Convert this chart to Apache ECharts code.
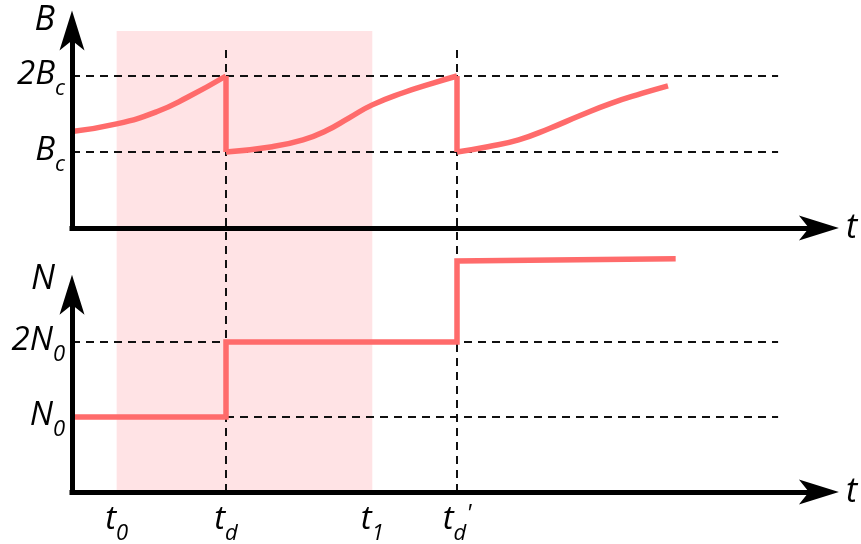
<!DOCTYPE html>
<html>
<head>
<meta charset="utf-8">
<script src="https://cdn.jsdelivr.net/npm/echarts@6/dist/echarts.min.js"></script>
<style>
  html, body { margin: 0; padding: 0; background: #fff; }
  #chart { width: 861px; height: 544px; }
</style>
</head>
<body>
<div id="chart"></div>
<script>
// Time markers (arbitrary time units)
const T0 = 0.58;      // t0: start of the shaded window
const TD = 2.0;       // td: first division
const T1 = 3.9;       // t1: end of the shaded window
const TD2 = 5.0;      // td': second division
const T_MAX = 9.7;    // end of the time axis (arrow)
const GUIDE_END = 9.17;
const GUIDE_TOP = 0.963;

// Cell size B (in units of Bc): three growth phases and the two divisions
const bGrowth1 = [[0, 1.27], [0.58, 1.37], [1.1, 1.53], [1.5, 1.72], [2.0, 2.0]];
const bGrowth2 = [[2.0, 1.0], [2.6, 1.07], [3.0, 1.16], [3.3, 1.28], [3.6, 1.45], [3.9, 1.62], [4.3, 1.78], [4.7, 1.91], [5.0, 2.0]];
const bGrowth3 = [[5.0, 1.0], [5.4, 1.07], [5.8, 1.16], [6.2, 1.31], [6.6, 1.48], [7.0, 1.64], [7.4, 1.77], [7.74, 1.87]];
const bDivision1 = [[2.0, 2.0], [2.0, 1.0]];
const bDivision2 = [[5.0, 2.0], [5.0, 1.0]];

// Cell number N (in units of N0)
const nSteps = [[0, 1], [2.0, 1], [2.0, 2], [5.0, 2], [5.0, 3.08], [7.84, 3.11]];

// Tick positions and labels
const bTicks = [1, 2];
const bTickLabels = { 1: '{m|B}{s|c}', 2: '{m|2B}{s|c}' };
const nTicks = [1, 2];
const nTickLabels = { 1: '{m|N}{s|0}', 2: '{m|2N}{s|0}' };
const tTicks = [T0, TD, T1, TD2];
const tTickLabels = ['{m|t}{s|0}', '{m|t}{s|d}', '{m|t}{s|1}', "{m|t}{s|d}{p|'}"];

const RED = '#ff6b6b';
const PINK = '#ffe3e5';
const FONT = 'Open Sans';
const UNIT_X = 77;     // px per time unit
const UNIT_B = 76;     // px per Bc
const UNIT_N = 75;     // px per N0
const B_MAX = 2.6;
const N_MAX = 2.63;

// notched arrow head, pointing up (rotated by the axis)
const ARROW = 'path://M12.5 0 L25 40 L12.5 30 L0 40 Z';

const richText = {
  m: { fontSize: 33, fontStyle: 'italic', fontFamily: FONT, color: '#000', lineHeight: 36, verticalAlign: 'top' },
  s: { fontSize: 22, fontStyle: 'italic', fontFamily: FONT, color: '#000', lineHeight: 24, verticalAlign: 'top', padding: [20, 0, 0, 0] },
  p: { fontSize: 24, fontStyle: 'italic', fontFamily: FONT, color: '#000', lineHeight: 24, verticalAlign: 'top', padding: [-1, 0, 0, 0] }
};

const axisLineStyle = { color: '#000', width: 5, cap: 'square' };
const nameStyle = { fontSize: 34, fontStyle: 'italic', fontFamily: FONT, color: '#000' };
const dashStyle = { color: '#111', width: 2, type: [8, 6] };

const gridW = T_MAX * UNIT_X;
const topBase = 228, botBase = 492;

function xAxisFor(gridIndex, withLabels) {
  return {
    type: 'value', gridIndex, min: 0, max: T_MAX, z: 10,
    name: 't', nameLocation: 'end', nameGap: 27,
    nameTextStyle: Object.assign({ align: 'left', verticalAlign: 'middle', padding: [4, 0, 0, 0] }, nameStyle),
    axisLine: { show: true, symbol: ['none', ARROW], symbolSize: [25, 40], lineStyle: axisLineStyle },
    axisTick: { show: false },
    splitLine: { show: false },
    axisLabel: withLabels ? {
      show: true, customValues: tTicks, margin: 11, rich: richText,
      formatter: v => tTickLabels[tTicks.indexOf(v)]
    } : { show: false }
  };
}

function yAxisFor(gridIndex, name, max, ticks, labels, gap) {
  return {
    type: 'value', gridIndex, min: 0, max, z: 10,
    name, nameLocation: 'end', nameGap: gap,
    nameTextStyle: Object.assign({ align: 'right', verticalAlign: 'middle', padding: [0, 17, 0, 0] }, nameStyle),
    axisLine: { show: true, symbol: ['none', ARROW], symbolSize: [25, 40], lineStyle: axisLineStyle },
    axisTick: { show: false },
    splitLine: { show: false },
    axisLabel: {
      show: true, customValues: ticks, margin: 7, rich: richText,
      formatter: v => labels[v] || ''
    }
  };
}

function curve(data, xi, smooth) {
  return {
    type: 'line', xAxisIndex: xi, yAxisIndex: xi, data, smooth,
    showSymbol: false, symbol: 'none',
    clip: false, z: 5, lineStyle: { color: RED, width: 5.5, join: 'miter' }, silent: true
  };
}
function guide(data, xi) {
  return {
    type: 'line', xAxisIndex: xi, yAxisIndex: xi, data, showSymbol: false, symbol: 'none',
    clip: false, z: 3, lineStyle: dashStyle, silent: true
  };
}

const chart = echarts.init(document.getElementById('chart'), null, { renderer: 'canvas' });
chart.setOption({
  animation: false,
  backgroundColor: '#fff',
  grid: [
    { left: 72, width: gridW, top: topBase - B_MAX * UNIT_B, height: B_MAX * UNIT_B, outerBoundsMode: 'none', containLabel: false },
    { left: 72, width: gridW, top: botBase - N_MAX * UNIT_N, height: N_MAX * UNIT_N, outerBoundsMode: 'none', containLabel: false },
    // full-height overlay holding the shaded window and the division guides
    { left: 72, width: gridW, top: 31, height: botBase - 31, outerBoundsMode: 'none', containLabel: false }
  ],
  xAxis: [
    xAxisFor(0, false),
    xAxisFor(1, true),
    { type: 'value', gridIndex: 2, min: 0, max: T_MAX, show: false }
  ],
  yAxis: [
    yAxisFor(0, 'B', B_MAX, bTicks, bTickLabels, 10),
    yAxisFor(1, 'N', N_MAX, nTicks, nTickLabels, 15),
    { type: 'value', gridIndex: 2, min: 0, max: 1, show: false }
  ],
  series: [
    // shaded window t0..t1 and vertical guides at td and td'
    Object.assign(guide([[TD, 0], [TD, GUIDE_TOP]], 2), {
      markArea: {
        silent: true,
        itemStyle: { color: PINK },
        data: [[{ xAxis: T0, yAxis: 0 }, { xAxis: T1, yAxis: 1 }]]
      }
    }),
    guide([[TD2, 0], [TD2, GUIDE_TOP]], 2),
    // horizontal reference levels
    guide([[0, 1], [GUIDE_END, 1]], 0),
    guide([[0, 2], [GUIDE_END, 2]], 0),
    guide([[0, 1], [GUIDE_END, 1]], 1),
    guide([[0, 2], [GUIDE_END, 2]], 1),
    // B(t)
    curve(bGrowth1, 0, 0.5),
    curve(bDivision1, 0, false),
    curve(bGrowth2, 0, 0.5),
    curve(bDivision2, 0, false),
    curve(bGrowth3, 0, 0.5),
    // N(t)
    curve(nSteps, 1, false)
  ]
});
</script>
</body>
</html>
